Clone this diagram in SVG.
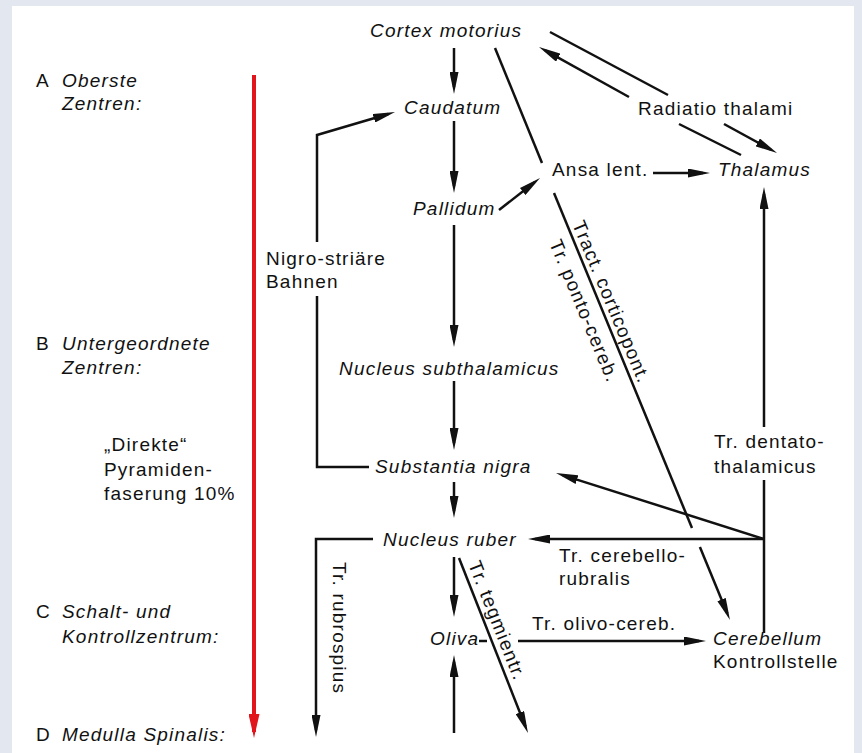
<svg xmlns="http://www.w3.org/2000/svg" width="862" height="753" viewBox="0 0 862 753">
<defs>
<style>
text{font-family:"Liberation Sans",Arial,sans-serif;font-size:19px;letter-spacing:1.2px;fill:#111}
.i{font-style:italic}
.c{fill:none;stroke:#111;stroke-width:2.5}
.a{marker-end:url(#ah)}
</style>
<marker id="ah" viewBox="0 0 22 9" refX="15" refY="4.5" markerWidth="22" markerHeight="9" markerUnits="userSpaceOnUse" orient="auto">
<path d="M0,0 L22,4.5 L0,9 Z" fill="#111"/>
</marker>
<marker id="rh" viewBox="0 0 24 11" refX="18" refY="5.5" markerWidth="24" markerHeight="11" markerUnits="userSpaceOnUse" orient="auto">
<path d="M0,0 L24,5.5 L0,11 Z" fill="#e0161c"/>
</marker>
</defs>
<rect x="0" y="0" width="862" height="753" fill="#e2e7f0"/>
<rect x="12" y="6" width="842" height="747" fill="#ffffff"/>

<g id="levels">
<text x="36" y="87">A</text><text x="62" y="87" class="i">Oberste</text>
<text x="62" y="110" class="i">Zentren:</text>
<text x="36" y="350">B</text><text x="62" y="350" class="i">Untergeordnete</text>
<text x="62" y="374" class="i">Zentren:</text>
<text x="104" y="451">„Direkte“</text>
<text x="104" y="476">Pyramiden-</text>
<text x="104" y="500">faserung 10%</text>
<text x="36" y="618">C</text><text x="62" y="618" class="i">Schalt- und</text>
<text x="62" y="643" class="i">Kontrollzentrum:</text>
<text x="36" y="741">D</text><text x="62" y="741" class="i">Medulla Spinalis:</text>
<line x1="254" y1="75" x2="254" y2="732" stroke="#e0161c" stroke-width="4" marker-end="url(#rh)"/>
</g>

<g id="cortex"><text x="370" y="37" class="i">Cortex motorius</text></g>
<g id="caudatum"><text x="404" y="114" class="i">Caudatum</text></g>
<g id="pallidum"><text x="413" y="215" class="i">Pallidum</text></g>
<g id="ansa"><text x="552" y="176">Ansa lent.</text></g>
<g id="thalamus"><text x="718" y="176" class="i">Thalamus</text></g>
<g id="radiatio"><text x="638" y="115">Radiatio thalami</text></g>
<g id="nigrostriaer"><text x="266" y="265">Nigro-striäre</text><text x="266" y="288">Bahnen</text></g>
<g id="subthalamicus"><text x="339" y="375" class="i">Nucleus subthalamicus</text></g>
<g id="substantia"><text x="375" y="473" class="i">Substantia nigra</text></g>
<g id="dentato"><text x="714" y="448">Tr. dentato-</text><text x="714" y="473">thalamicus</text></g>
<g id="ruber"><text x="383" y="546" class="i">Nucleus ruber</text></g>
<g id="cerebellorubralis"><text x="559" y="562">Tr. cerebello-</text><text x="559" y="585">rubralis</text></g>
<g id="oliva"><text x="430" y="645" class="i">Oliva</text></g>
<g id="olivocereb"><text x="532" y="630">Tr. olivo-cereb.</text></g>
<g id="cerebellum"><text x="713" y="645" class="i">Cerebellum</text><text x="713" y="668">Kontrollstelle</text></g>
<g id="corticopont"><text transform="translate(572,224) rotate(67.4)">Tract. corticopont.</text></g>
<g id="pontocereb"><text transform="translate(549,243) rotate(67.4)">Tr. ponto-cereb.</text></g>
<g id="tegmientr"><text transform="translate(468,564) rotate(68.5)">Tr. tegmientr.</text></g>
<g id="rubrospius"><text transform="translate(333,562) rotate(90)">Tr. rubrospius</text></g>

<g id="connectors">
<line class="c a" x1="454" y1="48" x2="454" y2="87"/>
<line class="c a" x1="454" y1="121" x2="454" y2="186"/>
<line class="c a" x1="454" y1="225" x2="454" y2="340"/>
<line class="c a" x1="454" y1="381" x2="454" y2="443"/>
<line class="c a" x1="454" y1="482" x2="454" y2="511"/>
<line class="c a" x1="454" y1="557" x2="454" y2="610"/>
<line class="c a" x1="454" y1="733" x2="454" y2="662"/>
<line class="c a" x1="499" y1="210" x2="534.5" y2="182.3"/>
<line class="c" x1="495" y1="48" x2="542" y2="163"/>
<line class="c a" x1="629" y1="97" x2="545.1" y2="50.4"/>
<line class="c" x1="550" y1="32" x2="668" y2="95"/>
<line class="c" x1="679" y1="124" x2="741" y2="155"/>
<line class="c a" x1="724" y1="124" x2="770.9" y2="149.6"/>
<line class="c a" x1="653" y1="173" x2="703" y2="173"/>
<line class="c a" x1="764" y1="427" x2="764" y2="194"/>
<line class="c" x1="764" y1="480" x2="764" y2="633"/>
<line class="c a" x1="764" y1="539" x2="535" y2="539"/>
<line class="c a" x1="764" y1="539" x2="562.7" y2="475.1"/>
<line class="c" x1="554" y1="193" x2="692" y2="528"/>
<line class="c a" x1="699.9" y1="547" x2="727.3" y2="613.5"/>
<polyline class="c" points="369,467 317,467 317,296"/>
<polyline class="c a" points="317,242 317,135 388.3,114"/>
<polyline class="c a" points="373,539 316,539 316,730"/>
<line class="c" x1="479" y1="641" x2="487" y2="641"/>
<line class="c a" x1="518" y1="641" x2="699" y2="641"/>
<line class="c a" x1="459" y1="558" x2="525.4" y2="726.5"/>
</g>
</svg>
